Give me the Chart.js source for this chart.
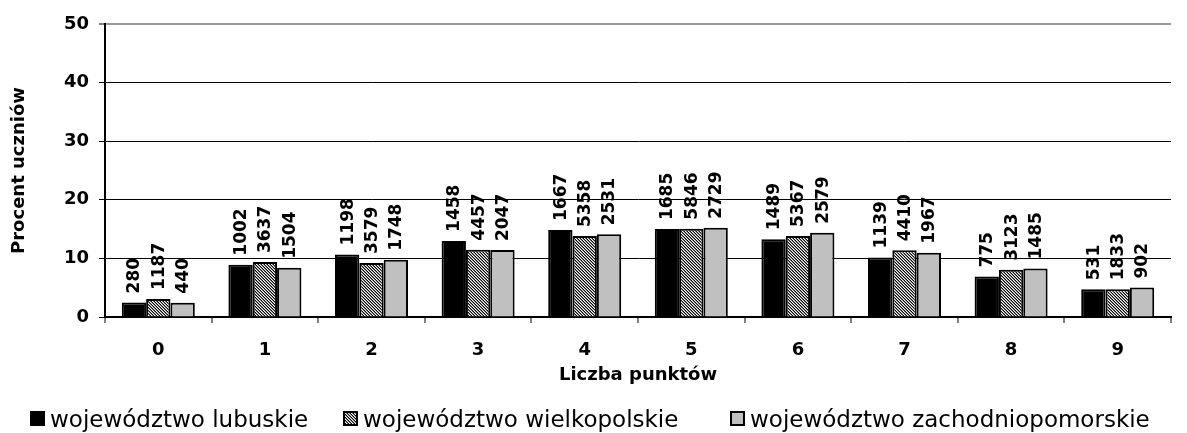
<!DOCTYPE html>
<html>
<head>
<meta charset="utf-8">
<script src="https://cdn.jsdelivr.net/npm/chart.js@4/dist/chart.umd.min.js"></script>
<style>
  html, body { margin: 0; padding: 0; background: #fff; }
  canvas { display: block; }
</style>
</head>
<body>
<canvas id="chart" width="1187" height="433"></canvas>
<script>
// Liczba punktów (0-9)
const categories = ['0', '1', '2', '3', '4', '5', '6', '7', '8', '9'];
const seriesNames = ['województwo lubuskie', 'województwo wielkopolskie', 'województwo zachodniopomorskie'];

// procent uczniów
const lubuskie = [2.49, 8.93, 10.67, 12.99, 14.85, 15.01, 13.27, 10.15, 6.90, 4.73];
const wielkopolskie = [3.06, 9.37, 9.22, 11.49, 13.81, 15.07, 13.83, 11.37, 8.05, 4.72];
const zachodniopomorskie = [2.45, 8.39, 9.75, 11.42, 14.11, 15.22, 14.38, 10.97, 8.28, 5.03];

// liczba uczniów written above the bars
const lubuskieCounts = [280, 1002, 1198, 1458, 1667, 1685, 1489, 1139, 775, 531];
const wielkopolskieCounts = [1187, 3637, 3579, 4457, 5358, 5846, 5367, 4410, 3123, 1833];
const zachodniopomorskieCounts = [440, 1504, 1748, 2047, 2531, 2729, 2579, 1967, 1485, 902];

const yTicks = [0, 10, 20, 30, 40, 50];

const canvas = document.getElementById('chart');
const ctx = canvas.getContext('2d');

// fine diagonal hatch for the middle series
function makeHatch() {
  const tile = document.createElement('canvas');
  tile.width = 3;
  tile.height = 3;
  const g = tile.getContext('2d');
  g.fillStyle = '#fff';
  g.fillRect(0, 0, 3, 3);
  for (let i = 0; i < 3; i++) {
    g.fillStyle = '#000';
    g.fillRect(i, i, 1, 1);
    g.fillStyle = '#808080';
    g.fillRect(i, (i + 1) % 3, 1, 1);
  }
  return ctx.createPattern(tile, 'repeat');
}

const counts = [lubuskieCounts, wielkopolskieCounts, zachodniopomorskieCounts];

// rotated count labels above each bar
const countLabels = {
  id: 'countLabels',
  afterDatasetsDraw(chart) {
    const c = chart.ctx;
    c.save();
    c.font = 'bold 17px "DejaVu Sans"';
    c.fillStyle = '#000';
    c.textAlign = 'left';
    c.textBaseline = 'middle';
    chart.data.datasets.forEach((ds, i) => {
      chart.getDatasetMeta(i).data.forEach((bar, j) => {
        c.save();
        c.translate(bar.x + 1, bar.y - 9);
        c.rotate(-Math.PI / 2);
        c.fillText(String(counts[i][j]), 0, 0);
        c.restore();
      });
    });
    c.restore();
  }
};

// legend row at the bottom, item starts taken from the original layout
const legendStarts = [30, 343, 730];
const bottomLegend = {
  id: 'bottomLegend',
  afterDraw(chart) {
    const c = chart.ctx;
    const box = 15, textGap = 5, baseline = 427;
    c.save();
    c.font = '23px "DejaVu Sans"';
    chart.data.datasets.forEach((ds, i) => {
      const x = legendStarts[i];
      c.fillStyle = ds.backgroundColor;
      c.fillRect(x, baseline - 16, box, box);
      c.lineWidth = 2;
      c.strokeStyle = '#000';
      c.strokeRect(x + 1, baseline - 15, box - 2, box - 2);
      c.fillStyle = '#000';
      c.textAlign = 'left';
      c.textBaseline = 'alphabetic';
      c.fillText(ds.label, x + box + textGap, baseline);
    });
    c.restore();
  }
};

Chart.defaults.font.family = '"DejaVu Sans", sans-serif';
Chart.defaults.color = '#000';

new Chart(ctx, {
  type: 'bar',
  data: {
    labels: categories,
    datasets: [
      {
        label: seriesNames[0],
        data: lubuskie,
        backgroundColor: '#000',
        borderColor: '#000',
        borderWidth: 2
      },
      {
        label: seriesNames[1],
        data: wielkopolskie,
        backgroundColor: makeHatch(),
        borderColor: '#000',
        borderWidth: 2
      },
      {
        label: seriesNames[2],
        data: zachodniopomorskie,
        backgroundColor: '#c0c0c0',
        borderColor: '#000',
        borderWidth: 2
      }
    ]
  },
  options: {
    responsive: false,
    animation: false,
    layout: { padding: { left: 0, right: 16, top: 24, bottom: 36 } },
    datasets: {
      bar: { categoryPercentage: 0.685, barPercentage: 1.0 }
    },
    plugins: {
      tooltip: { enabled: false },
      legend: { display: false }
    },
    scales: {
      x: {
        offset: true,
        grid: {
          offset: true,
          drawOnChartArea: true,
          color: (c) => (c.index === categories.length ? '#999' : 'rgba(0,0,0,0)'),
          lineWidth: 2,
          tickColor: '#000',
          tickWidth: 1,
          tickLength: 6
        },
        border: { display: true, color: '#000', width: 2 },
        ticks: {
          padding: 17,
          font: { weight: 'bold', size: 18 },
          color: '#000'
        },
        title: {
          display: true,
          text: 'Liczba punktów',
          font: { weight: 'bold', size: 18 },
          color: '#000',
          padding: { top: 11, bottom: 11 }
        },
        afterFit(scale) { scale.height = 80; }
      },
      y: {
        min: 0,
        max: 50,
        afterBuildTicks(scale) { scale.ticks = yTicks.map((v) => ({ value: v })); },
        grid: {
          color: (c) => (c.tick && c.tick.value === 50 ? '#999' : '#000'),
          lineWidth: (c) => (c.tick && c.tick.value === 50 ? 2 : 1),
          tickColor: '#000',
          tickWidth: 1,
          tickLength: 6
        },
        border: { display: true, color: '#000', width: 2 },
        ticks: {
          padding: 10,
          font: { weight: 'bold', size: 18 },
          color: '#000'
        },
        title: {
          display: true,
          text: 'Procent uczniów',
          font: { weight: 'bold', size: 18 },
          color: '#000',
          padding: { top: 9, bottom: 4 }
        },
        afterFit(scale) { scale.width = 105; }
      }
    }
  },
  plugins: [countLabels, bottomLegend]
});
</script>
</body>
</html>
